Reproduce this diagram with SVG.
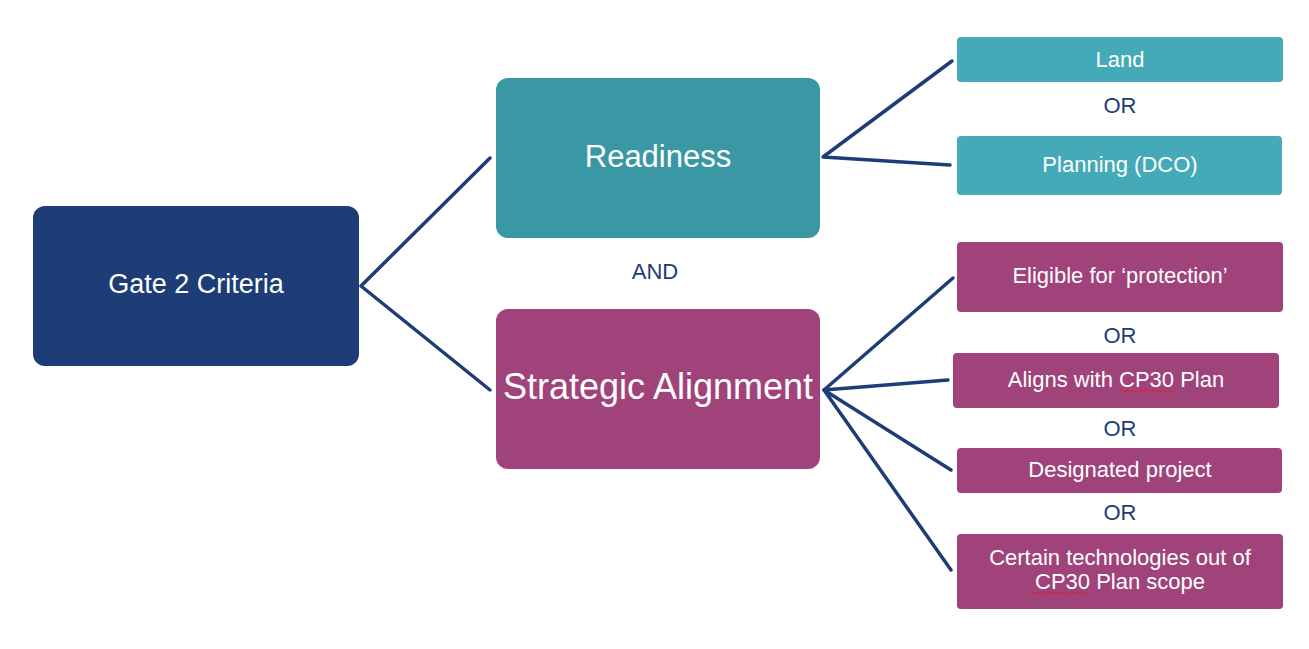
<svg xmlns="http://www.w3.org/2000/svg" width="1309" height="649" viewBox="0 0 1309 649">
<style>
text{font-family:"Liberation Sans",Arial,sans-serif;text-anchor:middle}
.w{fill:#ffffff}
.lbl{fill:#1c3d75;font-size:22px}
.con{stroke:#1c3d75;stroke-width:3.5;fill:none;stroke-linecap:round;stroke-linejoin:round}
.sq{stroke:#e0201c;stroke-width:1;fill:none}
</style>
<rect width="1309" height="649" fill="#ffffff"/>
<g id="connectors">
<polyline class="con" points="490,158 361,286 490,390"/>
<polyline class="con" points="952,61 823,157 950,165"/>
<polyline class="con" points="953,278 824,390 948,380"/>
<polyline class="con" points="951,470 824,390 951,570"/>
</g>
<g id="gate2">
<rect x="33" y="206" width="326" height="160" rx="12" fill="#1c3d75"/>
<text class="w" x="196" y="293" font-size="27">Gate 2 Criteria</text>
</g>
<g id="readiness">
<rect x="496" y="78" width="324" height="160" rx="12" fill="#3a98a4"/>
<text class="w" x="658" y="167" font-size="31">Readiness</text>
</g>
<g id="strategic">
<rect x="496" y="309" width="324" height="160" rx="12" fill="#a0437b"/>
<text class="w" x="658" y="399" font-size="36">Strategic Alignment</text>
</g>
<g id="and"><text class="lbl" x="655" y="279">AND</text></g>
<g id="land">
<rect x="957" y="37" width="326" height="45" rx="4" fill="#45aab7"/>
<text class="w" x="1120" y="67" font-size="22">Land</text>
</g>
<g id="or1"><text class="lbl" x="1120" y="113">OR</text></g>
<g id="planning">
<rect x="957" y="136" width="325" height="59" rx="4" fill="#45aab7"/>
<text class="w" x="1120" y="172" font-size="22">Planning (DCO)</text>
</g>
<g id="eligible">
<rect x="957" y="242" width="326" height="70" rx="4" fill="#a0437b"/>
<text class="w" x="1120" y="283" font-size="22">Eligible for ‘protection’</text>
</g>
<g id="or2"><text class="lbl" x="1120" y="343">OR</text></g>
<g id="aligns">
<rect x="953" y="353" width="326" height="55" rx="4" fill="#a0437b"/>
<text class="w" x="1116" y="387" font-size="22">Aligns with CP30 Plan</text>
<path class="sq" d="M1120,391 q1.5,-2 3,0 t3,0 t3,0 t3,0 t3,0 t3,0 t3,0 t3,0 t3,0 t3,0 t3,0 t3,0 t3,0 t3,0 t3,0 t3,0 t3,0 t3,0"/>
</g>
<g id="or3"><text class="lbl" x="1120" y="436">OR</text></g>
<g id="designated">
<rect x="957" y="448" width="325" height="45" rx="4" fill="#a0437b"/>
<text class="w" x="1120" y="477" font-size="22">Designated project</text>
</g>
<g id="or4"><text class="lbl" x="1120" y="520">OR</text></g>
<g id="certain">
<rect x="957" y="534" width="326" height="75" rx="4" fill="#a0437b"/>
<text class="w" x="1120" y="565" font-size="22">Certain technologies out of</text>
<text class="w" x="1120" y="589" font-size="22">CP30 Plan scope</text>
<path class="sq" d="M1031,593 q1.5,-2 3,0 t3,0 t3,0 t3,0 t3,0 t3,0 t3,0 t3,0 t3,0 t3,0 t3,0 t3,0 t3,0 t3,0 t3,0 t3,0 t3,0 t3,0"/>
</g>
</svg>
